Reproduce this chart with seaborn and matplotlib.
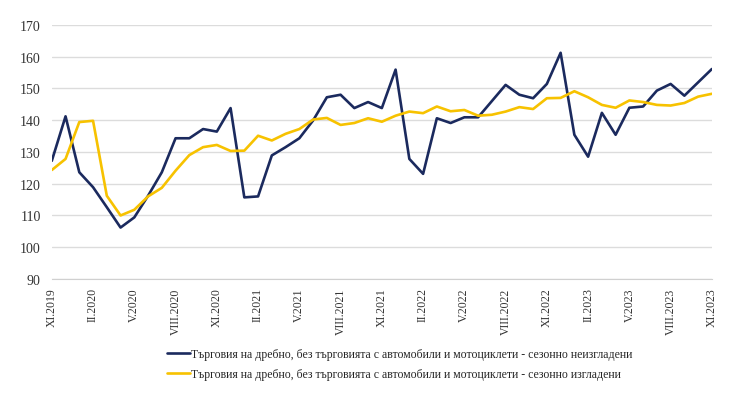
import pandas as pd
import seaborn as sns
import matplotlib.pyplot as plt
import numpy as np

# monthly data XI.2019 - XI.2023
months = ['XI.2019', 'XII.2019', 'I.2020', 'II.2020', 'III.2020', 'IV.2020', 'V.2020', 'VI.2020',
          'VII.2020', 'VIII.2020', 'IX.2020', 'X.2020', 'XI.2020', 'XII.2020', 'I.2021', 'II.2021',
          'III.2021', 'IV.2021', 'V.2021', 'VI.2021', 'VII.2021', 'VIII.2021', 'IX.2021', 'X.2021',
          'XI.2021', 'XII.2021', 'I.2022', 'II.2022', 'III.2022', 'IV.2022', 'V.2022', 'VI.2022',
          'VII.2022', 'VIII.2022', 'IX.2022', 'X.2022', 'XI.2022', 'XII.2022', 'I.2023', 'II.2023',
          'III.2023', 'IV.2023', 'V.2023', 'VI.2023', 'VII.2023', 'VIII.2023', 'IX.2023', 'X.2023',
          'XI.2023']

not_adjusted = [127.2, 141.2, 123.6, 118.9, 112.6, 106.2, 109.4, 116.2, 123.6, 134.3,
                134.3, 137.2, 136.4, 143.8, 115.7, 116.0, 128.9, 131.5, 134.3, 139.9,
                147.2, 148.0, 143.8, 145.7, 143.8, 155.9, 127.8, 123.1, 140.6, 139.1,
                140.9, 140.9, 146.0, 151.1, 148.0, 146.9, 151.4, 161.2, 135.4, 128.5,
                142.3, 135.4, 143.9, 144.3, 149.3, 151.4, 147.7, 151.9, 156.1]

adjusted = [124.3, 127.8, 139.4, 139.8, 116.2, 110.0, 111.8, 116.0, 118.7, 124.1,
            129.0, 131.5, 132.2, 130.3, 130.4, 135.1, 133.6, 135.7, 137.2, 140.2,
            140.7, 138.5, 139.1, 140.6, 139.5, 141.4, 142.7, 142.2, 144.3, 142.8,
            143.2, 141.4, 141.7, 142.7, 144.1, 143.5, 146.9, 147.0, 149.1, 147.2,
            144.8, 143.9, 146.2, 145.7, 144.8, 144.6, 145.4, 147.4, 148.3]

label_na = 'Търговия на дребно, без търговията с автомобили и мотоциклети - сезонно неизгладени'
label_sa = 'Търговия на дребно, без търговията с автомобили и мотоциклети - сезонно изгладени'

df = pd.DataFrame({'month': np.arange(len(months)),
                   label_na: not_adjusted,
                   label_sa: adjusted})
df_long = pd.melt(df, id_vars=['month'], var_name='series', value_name='value')

sns.set_style('white')
plt.rcParams['font.family'] = ['Liberation Serif', 'DejaVu Serif']

fig = plt.figure(figsize=(7.4, 4.1), dpi=100)
ax = fig.add_axes([0.070, 0.317, 0.892, 0.620])

sns.lineplot(data=df_long, x='month', y='value', hue='series',
             palette={label_na: '#1b2a5e', label_sa: '#f7c200'},
             linewidth=1.9, ax=ax, legend=True)

ax.set_ylim(90, 170)
ax.set_yticks(range(90, 171, 10))
ax.set_xlim(0, len(months) - 1)
ax.set_xticks(np.arange(0, len(months), 3))
ax.set_xticklabels(months[::3], rotation=90, fontsize=8.5, color='#333333')
ax.set_xticks(np.arange(len(months)), minor=True)
ax.tick_params(axis='x', which='both', direction='out', length=4, color='#d0d0d0', pad=2)
ax.tick_params(axis='y', length=0, labelsize=10, colors='#333333', pad=8)
ax.yaxis.grid(True, color='#dcdcdc', linewidth=1)
ax.set_xlabel('')
ax.set_ylabel('')
for s in ['top', 'right', 'left']:
    ax.spines[s].set_visible(False)
ax.spines['bottom'].set_color('#d0d0d0')

handles, labels = ax.get_legend_handles_labels()
ax.legend_.remove()
fig.legend(handles, labels, loc='center', bbox_to_anchor=(0.54, 0.11), ncol=1,
           frameon=False, fontsize=8.5, handlelength=2.0, handletextpad=0.1,
           labelspacing=0.7)

fig.savefig('out.png', dpi=100)
